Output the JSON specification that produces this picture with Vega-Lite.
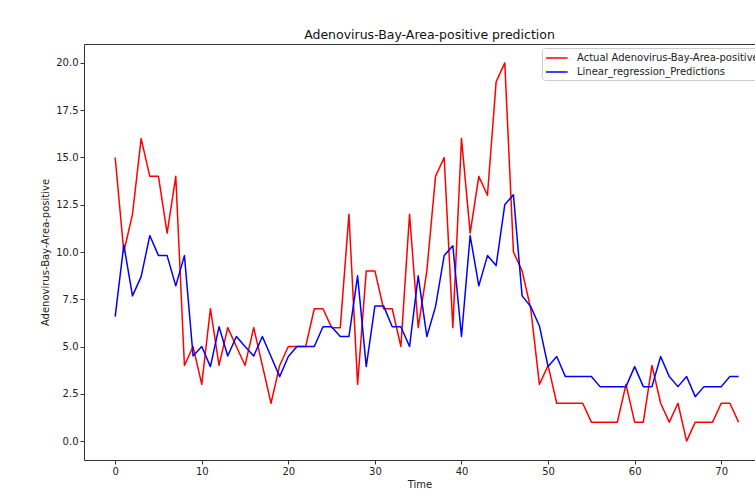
{
  "$schema": "https://vega.github.io/schema/vega-lite/v6.json",
  "width": 671,
  "height": 416,
  "autosize": "none",
  "padding": {"left": 84, "top": 44, "right": 0, "bottom": 39},
  "background": "#ffffff",
  "title": {"text": "Adenovirus-Bay-Area-positive prediction", "fontSize": 12.5, "fontWeight": "normal", "color": "#111", "frame": "group", "dx": 10, "offset": 3},
  "data": {"values": [
    {"t":0,"a":15,"p":6.58},{"t":1,"a":10,"p":10.38},{"t":2,"a":12,"p":7.68},{"t":3,"a":16,"p":8.70},
    {"t":4,"a":14,"p":10.87},{"t":5,"a":14,"p":9.81},{"t":6,"a":11,"p":9.81},{"t":7,"a":14,"p":8.21},
    {"t":8,"a":4,"p":9.81},{"t":9,"a":5,"p":4.50},{"t":10,"a":3,"p":5.0},{"t":11,"a":7,"p":3.94},
    {"t":12,"a":4,"p":6.05},{"t":13,"a":6,"p":4.5},{"t":14,"a":5,"p":5.53},{"t":15,"a":4,"p":5.0},
    {"t":16,"a":6,"p":4.5},{"t":17,"a":4,"p":5.53},{"t":18,"a":2,"p":4.47},{"t":19,"a":4,"p":3.41},
    {"t":20,"a":5,"p":4.47},{"t":21,"a":5,"p":5.0},{"t":22,"a":5,"p":5.0},{"t":23,"a":7,"p":5.0},
    {"t":24,"a":7,"p":6.05},{"t":25,"a":6,"p":6.05},{"t":26,"a":6,"p":5.53},{"t":27,"a":12,"p":5.53},
    {"t":28,"a":3,"p":8.74},{"t":29,"a":9,"p":3.94},{"t":30,"a":9,"p":7.15},{"t":31,"a":7,"p":7.15},
    {"t":32,"a":7,"p":6.05},{"t":33,"a":5,"p":6.05},{"t":34,"a":12,"p":5.0},{"t":35,"a":6,"p":8.74},
    {"t":36,"a":9,"p":5.53},{"t":37,"a":14,"p":7.11},{"t":38,"a":15,"p":9.81},{"t":39,"a":6,"p":10.33},
    {"t":40,"a":16,"p":5.53},{"t":41,"a":11,"p":10.87},{"t":42,"a":14,"p":8.21},{"t":43,"a":13,"p":9.81},
    {"t":44,"a":19,"p":9.28},{"t":45,"a":20,"p":12.5},{"t":46,"a":10,"p":13.03},{"t":47,"a":9,"p":7.68},
    {"t":48,"a":7,"p":7.11},{"t":49,"a":3,"p":6.09},{"t":50,"a":4,"p":3.94},{"t":51,"a":2,"p":4.47},
    {"t":52,"a":2,"p":3.41},{"t":53,"a":2,"p":3.41},{"t":54,"a":2,"p":3.41},{"t":55,"a":1,"p":3.41},
    {"t":56,"a":1,"p":2.88},{"t":57,"a":1,"p":2.88},{"t":58,"a":1,"p":2.88},{"t":59,"a":3,"p":2.88},
    {"t":60,"a":1,"p":3.94},{"t":61,"a":1,"p":2.88},{"t":62,"a":4,"p":2.88},{"t":63,"a":2,"p":4.47},
    {"t":64,"a":1,"p":3.41},{"t":65,"a":2,"p":2.88},{"t":66,"a":0,"p":3.41},{"t":67,"a":1,"p":2.35},
    {"t":68,"a":1,"p":2.88},{"t":69,"a":1,"p":2.88},{"t":70,"a":2,"p":2.88},{"t":71,"a":2,"p":3.41},
    {"t":72,"a":1,"p":3.41}
  ]},
  "transform": [
    {"fold": ["a", "p"], "as": ["key", "value"]},
    {"lookup": "key", "from": {"data": {"values": [
      {"key": "a", "series": "Actual Adenovirus-Bay-Area-positive", "ord": 0},
      {"key": "p", "series": "Linear_regression_Predictions", "ord": 1}
    ]}, "key": "key", "fields": ["series", "ord"]}}
  ],
  "mark": {"type": "line", "strokeWidth": 1.5, "strokeJoin": "round", "clip": true},
  "encoding": {
    "x": {"field": "t", "type": "quantitative", "title": "Time",
      "scale": {"domain": [-3.6, 73.9], "nice": false, "zero": false},
      "axis": {"values": [0, 10, 20, 30, 40, 50, 60, 70], "format": "d", "labelPadding": 2, "titlePadding": 3}},
    "y": {"field": "value", "type": "quantitative", "title": "Adenovirus-Bay-Area-positive",
      "scale": {"domain": [-1, 21], "nice": false, "zero": false},
      "axis": {"values": [0, 2.5, 5, 7.5, 10, 12.5, 15, 17.5, 20], "format": ".1f", "labelPadding": 2, "titlePadding": 5}},
    "color": {"field": "series", "type": "nominal",
      "scale": {"domain": ["Actual Adenovirus-Bay-Area-positive", "Linear_regression_Predictions"], "range": ["#ff0000", "#0000ff"]},
      "legend": {"title": null, "orient": "none", "legendX": 458, "legendY": 4}},
    "order": {"field": "ord"}
  },
  "config": {
    "font": "DejaVu Sans",
    "view": {"stroke": "#333", "strokeWidth": 1},
    "axis": {"domain": false, "grid": false, "tickColor": "#333", "tickSize": 4, "labelColor": "#222", "labelFontSize": 10, "titleFontSize": 10, "titleFontWeight": "normal", "titleColor": "#222"},
    "legend": {"fillColor": "rgba(255,255,255,0.8)", "strokeColor": "#cccccc", "cornerRadius": 3, "padding": 3, "symbolType": "M-1,0H2.6", "symbolSize": 144, "symbolStrokeWidth": 1.5, "labelFontSize": 10, "labelColor": "#222", "labelOffset": 18, "rowPadding": 2, "labelLimit": 400}
  }
}
